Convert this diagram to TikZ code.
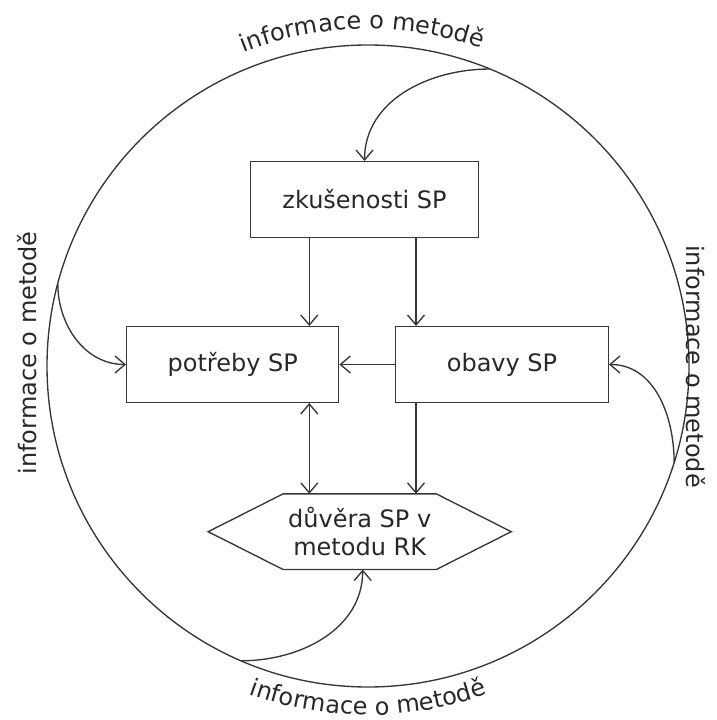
\documentclass[tikz,border=0pt]{standalone}
\usepackage{fontspec}
\setmainfont{DejaVu Sans}
\usetikzlibrary{arrows.meta,decorations.text}
\definecolor{ln}{RGB}{55,55,55}
\definecolor{tx}{RGB}{40,40,40}
\begin{document}
\begin{tikzpicture}[x=1pt,y=1pt,
  lbl/.style={text=tx, font=\fontsize{24}{28.5}\selectfont},
  box/.style={lbl, draw=ln, line width=1.35pt, minimum height=75.6pt, inner sep=0pt},
  line/.style={draw=ln, line width=1.35pt, line join=miter},
  conn/.style={line, -{Straight Barb[length=10pt,width=17pt]}},
  bconn/.style={line, {Straight Barb[length=10pt,width=17pt]}-{Straight Barb[length=10pt,width=17pt]}},
  curvetext/.style={decorate, decoration={text along path, text align=center, text color=tx,
     text={|\fontsize{24}{28}\selectfont|informace o metodě}}}]
\useasboundingbox (0,0) rectangle (717,720);
% circle
\coordinate (c) at (368,354);
\draw[line] (c) circle[radius=321];
% nodes
\node[box, minimum width=227.6pt] (zk) at (364.5,520.5) {zkušenosti SP};
\node[box, minimum width=212pt] (pt) at (232.7,355.5) {potřeby SP};
\node[box, minimum width=212.6pt] (ob) at (502,355.5) {obavy SP};
\node[lbl, minimum width=302.7pt, minimum height=75.3pt, inner sep=0pt, align=center] (dv) at (359.7,188.3) {důvěra SP v\\metodu RK};
\draw[line] (dv.west) -- ([xshift=75pt]dv.north west) -- ([xshift=-75pt]dv.north east) -- (dv.east)
  -- ([xshift=-75pt]dv.south east) -- ([xshift=75pt]dv.south west) -- cycle;
% inner connectors
\coordinate (xL) at (309.3,0);
\coordinate (xR) at (416,0);
\draw[conn] (zk.south -| xL) -- (pt.north -| xL);
\draw[conn] (zk.south -| xR) -- (ob.north -| xR);
\draw[conn] (ob.west) -- (pt.east);
\draw[bconn] (pt.south -| xL) -- (dv.north -| xL);
\draw[conn] (ob.south -| xR) -- (dv.north -| xR);
% curved connectors from the circle
\coordinate (pT) at ([shift={(67.7:321)}]c);
\coordinate (pL) at ([shift={(165.1:321)}]c);
\coordinate (pR) at ([shift={(-17.5:321)}]c);
\coordinate (pB) at ([shift={(246.7:321)}]c);
\draw[conn] (pT) to[out=180,in=90] (zk.north);
\draw[conn] (pL) to[out=-90,in=180] (pt.west);
\draw[conn] (pR) to[out=90,in=0] (ob.east);
\draw[conn] ([xshift=0pt]pB) to[out=0,in=-90] ([xshift=3pt]dv.south);
% labels round the circle
\path[curvetext] ([shift={(135:337)}]c) arc[start angle=135, end angle=47, radius=337];
\path[curvetext] ([shift={(225:349)}]c) arc[start angle=225, end angle=315, radius=349];
\node[lbl, rotate=90, anchor=base, inner sep=0pt] (tl) at (36,367) {informace o metodě};
\node[lbl, rotate=-90, anchor=base, inner sep=0pt] (tr) at (686,353.5) {informace o metodě};
\end{tikzpicture}
\end{document}
